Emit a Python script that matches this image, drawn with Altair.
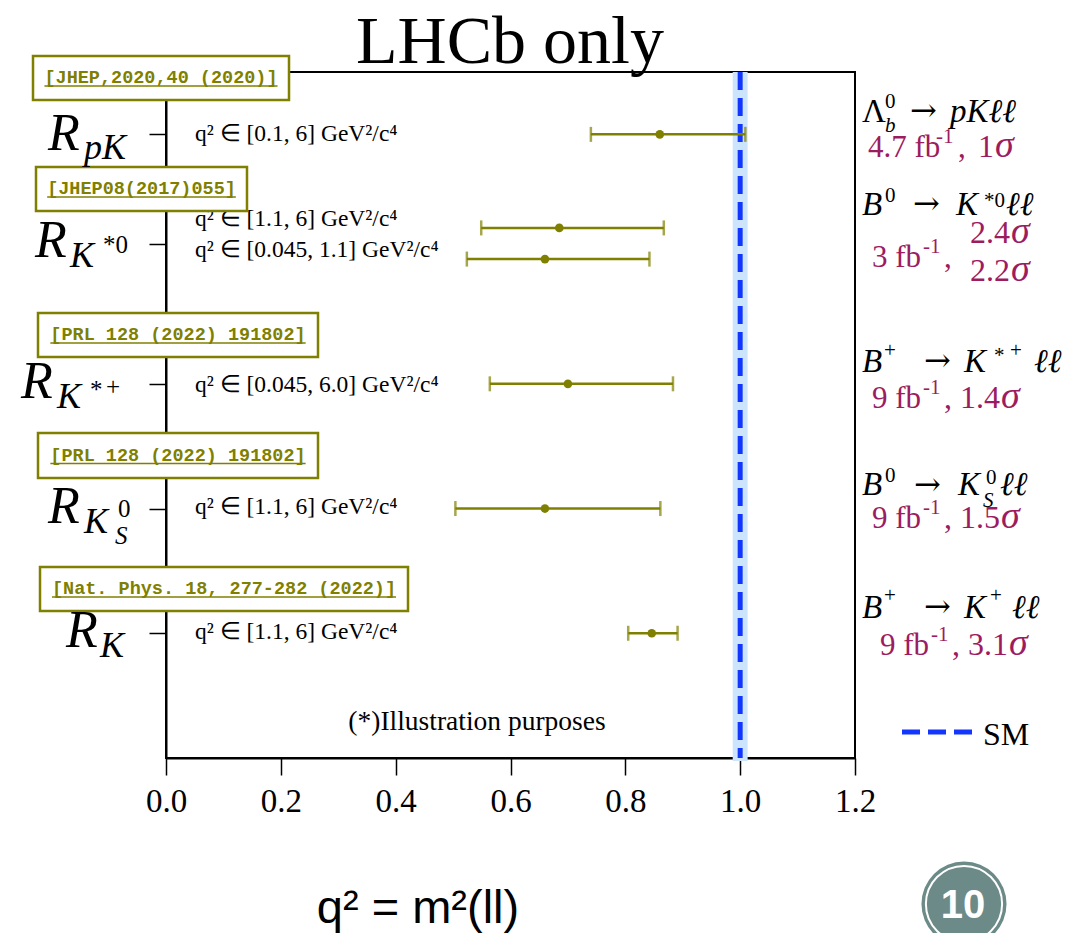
import math
import altair as alt
import pandas as pd

# ---------------- data ----------------
measurements = ["R_pK", "R_K*0 high", "R_K*0 low", "R_K*+", "R_KS0", "R_K"]
rows = [1, 2.5, 3, 5, 7, 9]
central = [0.860, 0.685, 0.660, 0.700, 0.660, 0.846]
err_low = [0.740, 0.549, 0.524, 0.564, 0.504, 0.805]
err_high = [1.009, 0.867, 0.842, 0.883, 0.861, 0.891]
q2_ranges = [
    "q² ∈ [0.1, 6] GeV²/c⁴",
    "q² ∈ [1.1, 6] GeV²/c⁴",
    "q² ∈ [0.045, 1.1] GeV²/c⁴",
    "q² ∈ [0.045, 6.0] GeV²/c⁴",
    "q² ∈ [1.1, 6] GeV²/c⁴",
    "q² ∈ [1.1, 6] GeV²/c⁴",
]
references = [
    "[JHEP,2020,40 (2020)]",
    "[JHEP08(2017)055]",
    "[PRL 128 (2022) 191802]",
    "[PRL 128 (2022) 191802]",
    "[Nat. Phys. 18, 277-282 (2022)]",
]
sm_value = [1.0]
sm_band = [0.987, 1.013]
x_ticks = [0.0, 0.2, 0.4, 0.6, 0.8, 1.0, 1.2]
y_tick_rows = [1, 2.75, 5, 7, 9]
title_text = "LHCb only"
note_text = "(*)Illustration purposes"
bottom_text = "q² = m²(ll)"
page_number = "10"

# ---------------- layout (pixels) ----------------
W, H = 689, 686
L, T = 166, 72
XMAX, YMAX = 1.2, 11.0
SERIF = "Liberation Serif"
ARROWFONT = "DejaVu Serif"
MONO = "Liberation Mono"
SANS = "Liberation Sans"
OLIVE = "#808000"
MAROON = "#9c1c5f"
BLUE = "#1236ff"


def px_x(p):
    return (p - L) / W * XMAX


def px_y(p):
    return (p - T) / H * YMAX


xs = alt.Scale(domain=[0, XMAX], nice=False, zero=False)
ys = alt.Scale(domain=[0, YMAX], nice=False, zero=False, reverse=True)
xaxis = alt.Axis(values=x_ticks, format=".1f", title=None, grid=False,
                 labelFont=SERIF, labelFontSize=33, labelColor="black",
                 tickSize=17, tickWidth=1.5, tickColor="black",
                 domainColor="black", domainWidth=2, labelPadding=10,
                 labelFlush=False)
yaxis = alt.Axis(values=y_tick_rows, labels=False, title=None, grid=False,
                 tickSize=17, tickWidth=1.5, tickColor="black",
                 domainColor="black", domainWidth=2)


def X(f):
    return alt.X(f"{f}:Q", scale=xs, axis=xaxis)


def Y(f):
    return alt.Y(f"{f}:Q", scale=ys, axis=yaxis)


meas = pd.DataFrame({"name": measurements, "row": rows, "c": central,
                     "lo": err_low, "hi": err_high})

layers = []

# SM band and line
band = pd.DataFrame({"x": [sm_band[0]], "x2": [sm_band[1]], "y": [0.0], "y2": [px_y(761)]})
layers.append(alt.Chart(band).mark_rect(color="#cde5fc").encode(
    x=X("x"), x2="x2", y=Y("y"), y2="y2"))
sm = pd.DataFrame({"x": sm_value, "y": [0.0], "y2": [YMAX]})
layers.append(alt.Chart(sm).mark_rule(color=BLUE, strokeWidth=5, strokeDash=[18, 8]).encode(
    x=X("x"), y=Y("y"), y2="y2"))

# error bars
layers.append(alt.Chart(meas).mark_rule(color=OLIVE, strokeWidth=2.5).encode(
    x=X("lo"), x2="hi", y=Y("row")))
layers.append(alt.Chart(meas).mark_tick(color=OLIVE, orient="vertical", thickness=2.5, size=15).encode(
    x=X("lo"), y=Y("row")))
layers.append(alt.Chart(meas).mark_tick(color=OLIVE, orient="vertical", thickness=2.5, size=15).encode(
    x=X("hi"), y=Y("row")))
layers.append(alt.Chart(meas).mark_circle(color=OLIVE, size=75, opacity=1).encode(
    x=X("c"), y=Y("row")))

# q2 range texts
q2_base = [141, 226, 257, 392, 514, 639]
q2df = pd.DataFrame({"text": q2_ranges, "x": [px_x(195)] * 6, "y": [px_y(b) for b in q2_base]})
layers.append(alt.Chart(q2df).mark_text(font=SERIF, fontSize=23.5, align="left",
                                        baseline="alphabetic", color="black").encode(
    x=X("x"), y=Y("y"), text="text:N"))

# reference boxes
box_px = [(33, 289, 56, 100), (36, 247, 167, 211), (38, 318, 313, 357),
          (38, 318, 433, 478), (40, 408, 567, 611)]
REF_FS = 18.5
boxes, unders = [], []
for ref, (x1, x2, y1, y2) in zip(references, box_px):
    cx, cy = (x1 + x2) / 2, (y1 + y2) / 2
    w = len(ref) * 0.6 * REF_FS
    boxes.append({"x": px_x(x1), "x2": px_x(x2), "y": px_y(y1), "y2": px_y(y2),
                  "tx": px_x(cx), "ty": px_y(cy - 1), "text": ref})
    unders.append({"x": px_x(cx - w / 2), "x2": px_x(cx + w / 2), "y": px_y(cy + 8)})
boxdf = pd.DataFrame(boxes)
underdf = pd.DataFrame(unders)
layers.append(alt.Chart(boxdf).mark_rect(fill="white", stroke=OLIVE, strokeWidth=2.5).encode(
    x=X("x"), x2="x2", y=Y("y"), y2="y2"))
layers.append(alt.Chart(boxdf).mark_text(font=MONO, fontWeight="bold", fontSize=REF_FS,
                                         color=OLIVE, align="center", baseline="middle").encode(
    x=X("tx"), y=Y("ty"), text="text:N"))
layers.append(alt.Chart(underdf).mark_rule(color=OLIVE, strokeWidth=1.3).encode(
    x=X("x"), x2="x2", y=Y("y")))


# text pieces: (text, x_px, baseline_px, size)
def pieces_layer(items, style="normal", weight="normal", font=SERIF, color="black",
                 align="left", baseline="alphabetic"):
    df = pd.DataFrame([{"text": t, "x": px_x(a), "y": px_y(b), "s": s} for t, a, b, s in items])
    return alt.Chart(df).mark_text(font=font, fontStyle=style, fontWeight=weight, color=color,
                                   align=align, baseline=baseline).encode(
        x=X("x"), y=Y("y"), text="text:N", size=alt.Size("s:Q", scale=None))


# left row labels
R_italic = [
    ("R", 48, 150, 52), ("pK", 84, 159, 36),
    ("R", 35, 257, 52), ("K", 70, 267, 36),
    ("R", 21, 398, 52), ("K", 57, 408, 36),
    ("R", 48, 523, 52), ("K", 84, 533, 36), ("S", 115, 544, 25),
    ("R", 66, 647, 52), ("K", 100, 657, 36),
]
R_upright = [
    ("*0", 103, 253, 25),
    ("*", 90, 398, 25), ("+", 106, 395, 25),
    ("0", 118, 517, 25),
]
layers.append(pieces_layer(R_italic, style="italic"))
layers.append(pieces_layer(R_upright))

# right annotations (decays)
dec_italic = [
    ("b", 885, 132, 21), ("pKℓℓ", 950, 122, 33),
    ("B", 862, 215, 33), ("K", 956, 215, 33), ("ℓℓ", 1006, 215, 33),
    ("B", 862, 372, 33), ("K", 964, 372, 33), ("ℓℓ", 1034, 372, 33),
    ("B", 862, 495, 33), ("K", 958, 495, 33), ("S", 983, 507, 21), ("ℓℓ", 1000, 495, 33),
    ("B", 862, 618, 33), ("K", 964, 618, 33), ("ℓℓ", 1012, 618, 33),
]
dec_upright = [
    ("Λ", 862, 122, 33), ("0", 885, 108, 21),
    ("0", 885, 202, 21), ("*0", 984, 207, 21),
    ("+", 884, 357, 21), ("*", 994, 362, 21), ("+", 1010, 357, 21),
    ("0", 885, 482, 21), ("0", 986, 484, 21),
    ("+", 884, 602, 21), ("+", 990, 602, 21),
]
arrows = [
    ("→", 910, 121, 32), ("→", 913, 214, 32), ("→", 924, 371, 32),
    ("→", 914, 495, 32), ("→", 924, 617, 32),
]
layers.append(pieces_layer(dec_italic, style="italic"))
layers.append(pieces_layer(dec_upright))
layers.append(pieces_layer(arrows, font=ARROWFONT))

# luminosity / significance (maroon)
lum_up = [
    ("4.7 fb", 868, 157, 31), ("-1", 936, 143, 21), (",", 958, 157, 31), ("1", 978, 157, 32),
    ("3 fb", 872, 267, 31), ("-1", 923, 253, 21), (",", 944, 267, 31),
    ("2.4", 970, 243, 32), ("2.2", 970, 281, 32),
    ("9 fb", 872, 408, 31), ("-1", 923, 394, 21), (", 1.4", 944, 408, 32),
    ("9 fb", 872, 528, 31), ("-1", 923, 514, 21), (", 1.5", 944, 528, 32),
    ("9 fb", 880, 655, 31), ("-1", 931, 641, 21), (", 3.1", 952, 655, 32),
]
lum_sigma = [
    ("σ", 995, 157, 38),
    ("σ", 1011, 243, 38), ("σ", 1011, 281, 38),
    ("σ", 1001, 408, 38), ("σ", 1001, 528, 38), ("σ", 1009, 655, 38),
]
layers.append(pieces_layer(lum_up, color=MAROON))
layers.append(pieces_layer(lum_sigma, color=MAROON, style="italic"))

# SM legend
smleg = pd.DataFrame({"x": [px_x(902)], "x2": [px_x(972)], "y": [px_y(732)]})
layers.append(alt.Chart(smleg).mark_rule(color=BLUE, strokeWidth=5, strokeDash=[18, 8]).encode(
    x=X("x"), x2="x2", y=Y("y")))
layers.append(pieces_layer([("SM", 983, 745, 32)]))

# title, note, bottom text
layers.append(pieces_layer([(title_text, 510, 63, 68)], align="center"))
layers.append(pieces_layer([(note_text, 477, 730, 27.5)], align="center"))
layers.append(pieces_layer([(bottom_text, 418, 923, 47)], font=SANS, align="center"))

# page badge
badge = pd.DataFrame({"x": [px_x(964)], "y": [px_y(904)]})
layers.append(alt.Chart(badge).mark_point(filled=True, shape="circle", fill="#6b8a88",
                                          opacity=1, strokeWidth=0, size=math.pi * 48 ** 2).encode(
    x=X("x"), y=Y("y")))
layers.append(alt.Chart(badge).mark_point(filled=False, shape="circle", stroke="white",
                                          strokeWidth=2, opacity=1, size=math.pi * 43 ** 2).encode(
    x=X("x"), y=Y("y")))
layers.append(pieces_layer([(page_number, 963, 906, 40)], font=SANS, weight="bold",
                           color="white", align="center", baseline="middle"))

chart = alt.layer(*layers).properties(
    width=W, height=H,
    autosize=alt.AutoSizeParams(type="none"),
    padding={"left": L, "top": T, "right": 1076 - L - W, "bottom": 933 - T - H},
    background="white",
).configure_view(stroke="black", strokeWidth=2)

chart.save("out.html", embed_options={"renderer": "svg", "actions": False})
